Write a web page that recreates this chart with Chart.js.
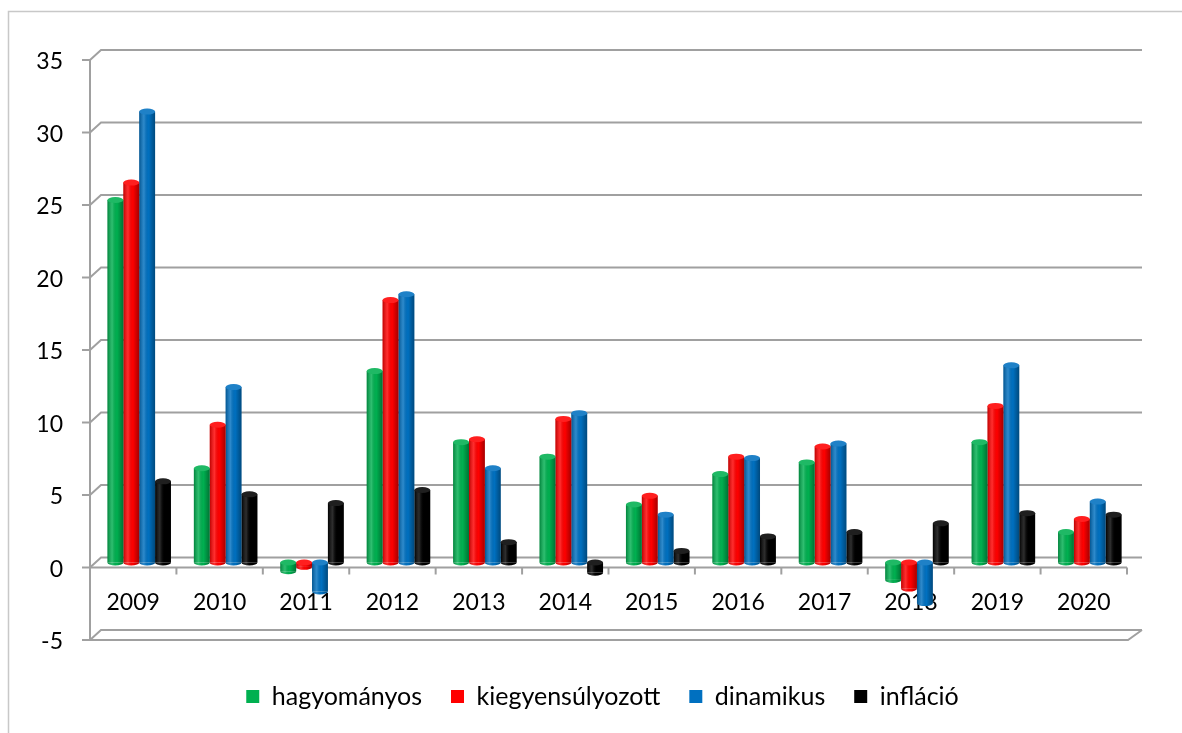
<!DOCTYPE html>
<html>
<head>
<meta charset="utf-8">
<script src="https://cdn.jsdelivr.net/npm/chart.js@4/dist/chart.umd.min.js"></script>
<style>
  html, body { margin: 0; padding: 0; background: #fff; }
  #wrap { width: 1182px; height: 733px; position: relative; }
</style>
</head>
<body>
<div id="wrap"><canvas id="oszlop"></canvas></div>
<script>
// évek és hozamok (%)
const evek = ['2009', '2010', '2011', '2012', '2013', '2014', '2015', '2016', '2017', '2018', '2019', '2020'];
const hagyomanyos = [25.0, 6.5, -0.6, 13.2, 8.3, 7.3, 4.0, 6.1, 6.9, -1.2, 8.3, 2.1];
const kiegyensulyozott = [26.2, 9.5, -0.3, 18.1, 8.5, 9.9, 4.6, 7.3, 8.0, -1.8, 10.8, 3.0];
const dinamikus = [31.1, 12.1, -2.0, 18.5, 6.5, 10.3, 3.3, 7.2, 8.2, -2.8, 13.6, 4.2];
const inflacio = [5.6, 4.7, 4.1, 5.0, 1.4, -0.7, 0.8, 1.8, 2.1, 2.7, 3.4, 3.3];
const yTicks = [-5, 0, 5, 10, 15, 20, 25, 30, 35];

const FONT = 'Lato, "Open Sans", sans-serif';
const GRID = '#a0a0a0';
const DX = 11, DY = -10;   // térhatás eltolása (hátsó fal)
const FRONT = 5;           // elülső sík a rudak síkjához képest

// keret, hátsó fal és padló (a rudak mögé)
const keret3d = {
  id: 'keret3d',
  afterLayout(chart) {
    // jelmagyarázat kicsit jobbra, mint az eredetin
    chart.legend.left += 36;
    chart.legend.right += 36;
  },
  beforeDatasetsDraw(chart) {
    const ctx = chart.ctx;
    const y = chart.scales.y, x = chart.scales.x;
    const fx0 = x.left - 6, fx1 = x.right - 6;
    const front = v => y.getPixelForValue(v) + FRONT;
    ctx.save();
    // külső keret
    ctx.strokeStyle = '#c8c8c8';
    ctx.lineWidth = 1.5;
    ctx.beginPath();
    ctx.moveTo(8.5, 733); ctx.lineTo(8.5, 11.5); ctx.lineTo(1182, 11.5);
    ctx.stroke();

    ctx.strokeStyle = GRID;
    ctx.lineWidth = 2;
    // hátsó rácsvonalak
    yTicks.forEach(v => {
      const py = front(v);
      ctx.beginPath();
      ctx.moveTo(fx0, py);
      ctx.lineTo(fx0 + DX, py + DY);
      ctx.lineTo(fx1 + DX + 4, py + DY);
      ctx.stroke();
      // osztásjel
      ctx.beginPath();
      ctx.moveTo(fx0 - 8, py); ctx.lineTo(fx0, py);
      ctx.stroke();
    });
    // függőleges tengely
    ctx.beginPath();
    ctx.moveTo(fx0, front(35)); ctx.lineTo(fx0, front(-5));
    ctx.stroke();
    // padló
    const pb = front(-5);
    ctx.beginPath();
    ctx.moveTo(fx0, pb); ctx.lineTo(fx1 + 1, pb); ctx.lineTo(fx1 + DX + 4, pb + DY);
    ctx.stroke();
    // nulla vonal és kategória-osztások
    const p0 = front(0);
    ctx.beginPath();
    ctx.moveTo(fx0, p0); ctx.lineTo(fx1, p0);
    ctx.stroke();
    const w = (fx1 - fx0) / evek.length;
    for (let i = 1; i <= evek.length; i++) {
      ctx.beginPath();
      ctx.moveTo(fx0 + i * w, p0); ctx.lineTo(fx0 + i * w, p0 + 7);
      ctx.stroke();
    }
    ctx.restore();
  },
  // hengeres hatás a rudakon
  afterDatasetsDraw(chart) {
    const ctx = chart.ctx;
    chart.data.datasets.forEach((ds, di) => {
      chart.getDatasetMeta(di).data.forEach(bar => {
        const l = bar.x - bar.width / 2, r = bar.x + bar.width / 2;
        const top = Math.min(bar.y, bar.base), bot = Math.max(bar.y, bar.base);
        const g = ctx.createLinearGradient(l, 0, r, 0);
        g.addColorStop(0, 'rgba(0,0,0,0.25)');
        g.addColorStop(0.3, 'rgba(255,255,255,0.18)');
        g.addColorStop(0.6, 'rgba(0,0,0,0)');
        g.addColorStop(1, 'rgba(0,0,0,0.35)');
        ctx.save();
        ctx.fillStyle = ds.backgroundColor;
        ctx.beginPath();
        ctx.ellipse(bar.x, bot, bar.width / 2, 3, 0, 0, Math.PI);
        ctx.fill();
        ctx.fillStyle = g;
        ctx.fillRect(l, top, r - l, bot - top);
        ctx.beginPath();
        ctx.ellipse(bar.x, bot, bar.width / 2, 3, 0, 0, Math.PI);
        ctx.fill();
        ctx.fillStyle = ds.backgroundColor;
        ctx.beginPath();
        ctx.ellipse(bar.x, top, bar.width / 2, 3, 0, 0, Math.PI * 2);
        ctx.fill();
        ctx.fillStyle = 'rgba(255,255,255,0.12)';
        ctx.fill();
        ctx.restore();
      });
    });
  }
};

new Chart(document.getElementById('oszlop'), {
  type: 'bar',
  data: {
    labels: evek,
    datasets: [
      { label: 'hagyományos', data: hagyomanyos, backgroundColor: '#00b050' },
      { label: 'kiegyensúlyozott', data: kiegyensulyozott, backgroundColor: '#ff0000' },
      { label: 'dinamikus', data: dinamikus, backgroundColor: '#0070c0' },
      { label: 'infláció', data: inflacio, backgroundColor: '#000000' }
    ]
  },
  options: {
    responsive: true,
    maintainAspectRatio: false,
    animation: false,
    layout: { padding: { top: 55, right: 49, left: 0, bottom: 14 } },
    datasets: { bar: { categoryPercentage: 0.735, barPercentage: 1, borderWidth: 0 } },
    scales: {
      x: {
        position: { y: 0 },
        grid: { display: false, drawTicks: false },
        border: { display: false },
        ticks: { color: '#000', font: { family: FONT, size: 23 }, padding: 26, labelOffset: -6, maxRotation: 0 }
      },
      y: {
        min: -5, max: 35,
        afterFit: s => { s.width = 96; },
        afterBuildTicks: s => { s.ticks = yTicks.map(v => ({ value: v })); },
        grid: { display: false, drawTicks: false },
        border: { display: false },
        ticks: { color: '#000', font: { family: FONT, size: 23 }, padding: 33, labelOffset: 7 }
      }
    },
    plugins: {
      legend: {
        position: 'bottom',
        title: { display: true, text: '', font: { size: 10 }, padding: 4 },
        labels: { color: '#000', font: { family: FONT, size: 25 }, boxWidth: 13, boxHeight: 13, padding: 29 }
      },
      tooltip: { enabled: false }
    }
  },
  plugins: [keret3d]
});
</script>
</body>
</html>
